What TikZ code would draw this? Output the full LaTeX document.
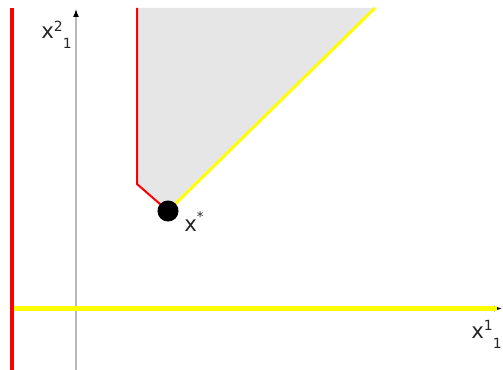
\documentclass[tikz,border=0pt]{standalone}
\usepackage{fontspec}
\setmainfont{DejaVu Sans}
\usetikzlibrary{arrows.meta}
\definecolor{feasred}{RGB}{255,0,0}
\definecolor{feasyellow}{RGB}{255,255,0}
\definecolor{conegray}{RGB}{230,230,230}
\definecolor{axisgray}{RGB}{185,185,185}
\newcommand{\xlab}[2]{x\raisebox{5.5pt}{\fontsize{10.5}{10.5}\selectfont #1}\raisebox{-7.5pt}{\fontsize{10.5}{10.5}\selectfont #2}}

\begin{document}
\begin{tikzpicture}[x=0.75pt, y=-0.75pt,
    axis/.style={draw=axisgray, line width=1.1pt, -{Latex[color=black, length=6pt, width=4.5pt]}},
    lab/.style={font=\fontsize{16}{18}\selectfont, text=black!85, inner sep=0, anchor=base west}]
    \useasboundingbox (0,0) rectangle (503,370);
    % feasible cone
    \fill[conegray] (137,8) -- (137,184) -- (168,211) -- (375,8) -- cycle;
    % axes
    \draw[axis] (76,370) -- (76,9);
    \draw[axis] (14,308.5) -- (502,308.5);
    % constraint lines
    \draw[feasred, line width=3.2pt] (12,8) -- (12,370);
    \draw[feasyellow, line width=3.8pt] (14,308.5) -- (497,308.5);
    \draw[feasred, line width=1.5pt] (137,8) -- (137,184) -- (168,211);
    \draw[feasyellow, line width=2.2pt] (168,211) -- (375,8);
    % optimum
    \node[circle, fill=black, minimum size=15.8pt, inner sep=0] (xstar) at (168,211) {};
    \node[lab] (xstarlab) at (184,232) {x\raisebox{8pt}{\fontsize{10}{10}\selectfont *}};
    % axis labels
    \node[lab] (ylab) at (41,39) {\xlab{2}{1}};
    \node[lab] (xlab) at (471,338) {\xlab{1}{1}};
  \end{tikzpicture}
\end{document}
